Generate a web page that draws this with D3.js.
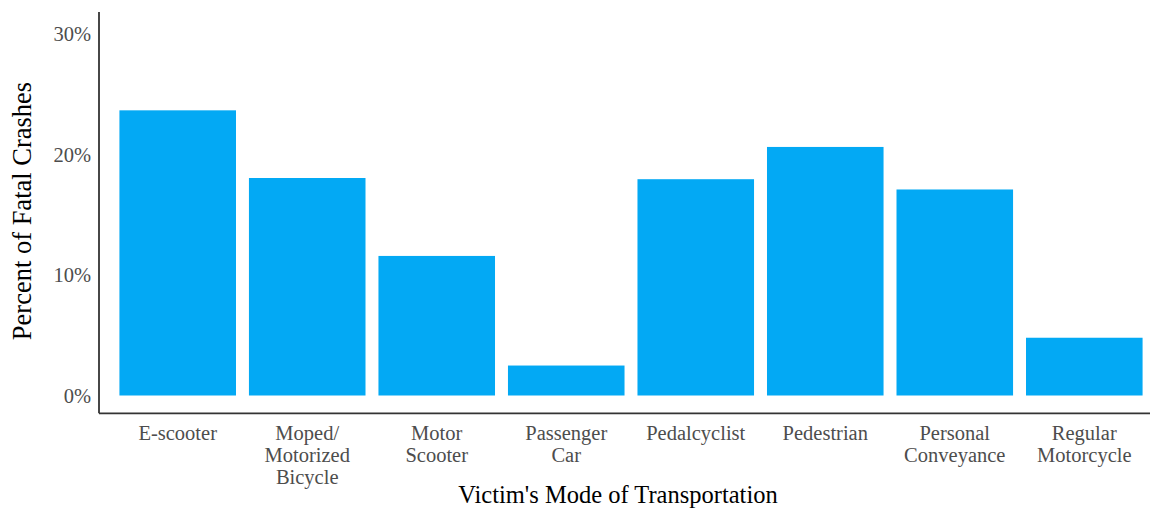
<!DOCTYPE html>
<html>
<head>
<meta charset="utf-8">
<script src="https://cdn.jsdelivr.net/npm/d3@7"></script>
<style>
  html, body { margin: 0; padding: 0; background: #fff; }
  svg { display: block; }
</style>
</head>
<body>
<svg id="chart" width="1150" height="509"></svg>
<script>
// Share of fatal crashes by the victim's mode of transportation
const categories = [
  ["E-scooter"],
  ["Moped/", "Motorized", "Bicycle"],
  ["Motor", "Scooter"],
  ["Passenger", "Car"],
  ["Pedalcyclist"],
  ["Pedestrian"],
  ["Personal", "Conveyance"],
  ["Regular", "Motorcycle"]
];
const percentFatal = [23.6, 18.0, 11.55, 2.48, 17.9, 20.57, 17.05, 4.78];
const yTicks = [0, 10, 20, 30];

const svg = d3.select("#chart");
const font = "'Liberation Serif', 'Times New Roman', serif";

const keys = categories.map(c => c.join(" "));
const data = keys.map((k, i) => ({ key: k, lines: categories[i], value: percentFatal[i] }));

// Panel edges: left axis at x=99, bottom axis at y=413
const x = d3.scaleBand()
  .domain(keys)
  .range([100, 1162])
  .paddingInner(0.1)
  .paddingOuter(0.15);

const y = d3.scaleLinear()
  .domain([0, 30])
  .range([395.5, 33]);

const yBottom = 413.3;
const yTop = 12;

// Bars
svg.append("g")
  .selectAll("rect")
  .data(data)
  .join("rect")
  .attr("x", d => x(d.key))
  .attr("width", x.bandwidth())
  .attr("y", d => y(d.value))
  .attr("height", d => y(0) - y(d.value))
  .attr("fill", "#03a9f4");

// Axis lines
svg.append("line")
  .attr("x1", 99).attr("x2", 99)
  .attr("y1", yTop).attr("y2", yBottom)
  .attr("stroke", "#333").attr("stroke-width", 1.8);
svg.append("line")
  .attr("x1", 99).attr("x2", 1150)
  .attr("y1", yBottom).attr("y2", yBottom)
  .attr("stroke", "#333").attr("stroke-width", 1.8);

// Y tick labels
const yAxis = d3.axisLeft(y)
  .tickValues(yTicks)
  .tickFormat(d => d + "%")
  .tickSize(0)
  .tickPadding(0);
const gy = svg.append("g")
  .attr("transform", "translate(91,0)")
  .call(yAxis);
gy.select(".domain").remove();
gy.selectAll("text")
  .attr("font-family", font)
  .attr("font-size", 20.5)
  .attr("fill", "#4d4d4d")
  .attr("dy", "0.35em");

// X tick labels (multi-line)
const xLabels = svg.append("g")
  .selectAll("text")
  .data(data)
  .join("text")
  .attr("x", d => x(d.key) + x.bandwidth() / 2)
  .attr("y", 440)
  .attr("text-anchor", "middle")
  .attr("font-family", font)
  .attr("font-size", 20.5)
  .attr("fill", "#4d4d4d");
xLabels.selectAll("tspan")
  .data(d => d.lines.map((t, i) => ({ t, i, cx: x(d.key) + x.bandwidth() / 2 })))
  .join("tspan")
  .attr("x", d => d.cx)
  .attr("dy", d => d.i === 0 ? 0 : 22)
  .text(d => d.t);

// Axis titles
svg.append("text")
  .attr("x", 618)
  .attr("y", 503)
  .attr("text-anchor", "middle")
  .attr("font-family", font)
  .attr("font-size", 24.5)
  .attr("fill", "#000")
  .text("Victim's Mode of Transportation");

svg.append("text")
  .attr("transform", "translate(31,211) rotate(-90)")
  .attr("text-anchor", "middle")
  .attr("font-family", font)
  .attr("font-size", 26.5)
  .attr("fill", "#000")
  .text("Percent of Fatal Crashes");
</script>
</body>
</html>
